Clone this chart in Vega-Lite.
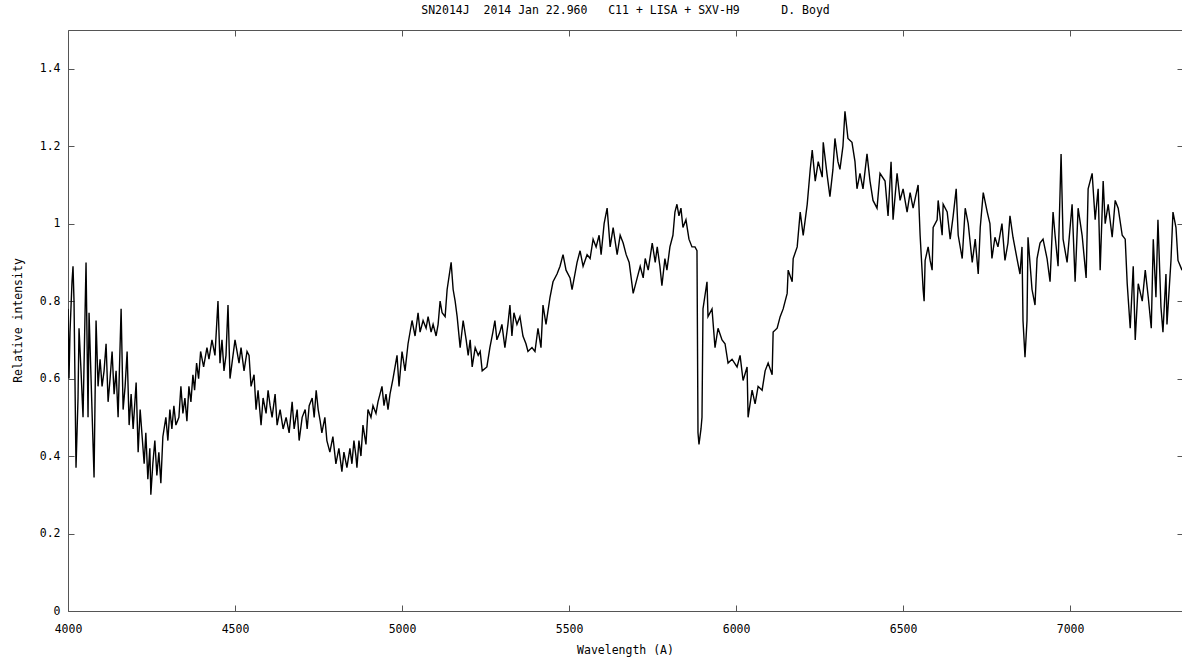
{
  "$schema": "https://vega.github.io/schema/vega-lite/v6.json",
  "width": 1115,
  "height": 581,
  "autosize": {"type": "none"},
  "padding": {"left": 68, "top": 30, "right": 0, "bottom": 51},
  "background": "white",
  "config": {
    "view": {"stroke": "#555", "strokeWidth": 1},
    "axis": {"grid": false, "domain": false, "tickColor": "#555", "tickWidth": 1, "labelFlush": false, "labelFont": "DejaVu Sans Mono", "labelFontSize": 11.5, "labelColor": "#000", "titleFont": "DejaVu Sans Mono", "titleFontSize": 11.5, "titleFontWeight": "normal", "titleColor": "#000"}
  },
  "title": {"text": "SN2014J\u00a0\u00a02014 Jan 22.960\u00a0\u00a0\u00a0C11 + LISA + SXV-H9\u00a0\u00a0\u00a0\u00a0\u00a0\u00a0D. Boyd", "font": "DejaVu Sans Mono", "fontSize": 11.5, "fontWeight": "normal", "color": "#000", "anchor": "middle", "frame": "group", "offset": 13},
  "data": {"values": [
{"w":4000,"v":0.78},{"w":4003,"v":0.60},{"w":4006,"v":0.72},{"w":4012,"v":0.85},{"w":4015,"v":0.89},{"w":4018,"v":0.80},{"w":4024,"v":0.37},{"w":4030,"v":0.55},{"w":4033,"v":0.73},{"w":4039,"v":0.62},{"w":4045,"v":0.50},{"w":4054,"v":0.90},{"w":4060,"v":0.50},{"w":4063,"v":0.77},{"w":4069,"v":0.60},{"w":4078,"v":0.345},{"w":4084,"v":0.75},{"w":4090,"v":0.58},{"w":4096,"v":0.65},{"w":4102,"v":0.58},{"w":4108,"v":0.62},{"w":4114,"v":0.69},{"w":4120,"v":0.54},{"w":4126,"v":0.60},{"w":4132,"v":0.67},{"w":4138,"v":0.56},{"w":4144,"v":0.62},{"w":4150,"v":0.50},{"w":4159,"v":0.78},{"w":4165,"v":0.52},{"w":4171,"v":0.58},{"w":4177,"v":0.67},{"w":4183,"v":0.48},{"w":4189,"v":0.56},{"w":4195,"v":0.47},{"w":4204,"v":0.59},{"w":4210,"v":0.41},{"w":4216,"v":0.52},{"w":4222,"v":0.45},{"w":4228,"v":0.38},{"w":4233,"v":0.46},{"w":4239,"v":0.34},{"w":4245,"v":0.42},{"w":4248,"v":0.30},{"w":4254,"v":0.38},{"w":4260,"v":0.44},{"w":4266,"v":0.35},{"w":4272,"v":0.41},{"w":4278,"v":0.33},{"w":4284,"v":0.45},{"w":4293,"v":0.50},{"w":4299,"v":0.44},{"w":4305,"v":0.52},{"w":4311,"v":0.47},{"w":4317,"v":0.53},{"w":4323,"v":0.48},{"w":4332,"v":0.50},{"w":4338,"v":0.58},{"w":4344,"v":0.51},{"w":4350,"v":0.55},{"w":4356,"v":0.49},{"w":4362,"v":0.58},{"w":4368,"v":0.54},{"w":4374,"v":0.61},{"w":4379,"v":0.57},{"w":4385,"v":0.64},{"w":4391,"v":0.60},{"w":4397,"v":0.67},{"w":4406,"v":0.63},{"w":4416,"v":0.68},{"w":4422,"v":0.65},{"w":4431,"v":0.70},{"w":4440,"v":0.66},{"w":4449,"v":0.80},{"w":4455,"v":0.64},{"w":4461,"v":0.70},{"w":4467,"v":0.62},{"w":4473,"v":0.66},{"w":4479,"v":0.79},{"w":4485,"v":0.60},{"w":4491,"v":0.64},{"w":4500,"v":0.70},{"w":4506,"v":0.67},{"w":4512,"v":0.64},{"w":4518,"v":0.68},{"w":4527,"v":0.62},{"w":4536,"v":0.67},{"w":4542,"v":0.66},{"w":4548,"v":0.58},{"w":4557,"v":0.61},{"w":4563,"v":0.52},{"w":4569,"v":0.57},{"w":4578,"v":0.48},{"w":4584,"v":0.55},{"w":4593,"v":0.51},{"w":4599,"v":0.57},{"w":4605,"v":0.53},{"w":4611,"v":0.50},{"w":4620,"v":0.56},{"w":4626,"v":0.48},{"w":4635,"v":0.52},{"w":4644,"v":0.47},{"w":4653,"v":0.50},{"w":4662,"v":0.46},{"w":4671,"v":0.54},{"w":4677,"v":0.47},{"w":4686,"v":0.52},{"w":4692,"v":0.44},{"w":4701,"v":0.50},{"w":4710,"v":0.52},{"w":4716,"v":0.47},{"w":4722,"v":0.53},{"w":4731,"v":0.55},{"w":4737,"v":0.50},{"w":4743,"v":0.57},{"w":4749,"v":0.52},{"w":4755,"v":0.49},{"w":4760,"v":0.46},{"w":4769,"v":0.50},{"w":4775,"v":0.44},{"w":4784,"v":0.41},{"w":4793,"v":0.45},{"w":4802,"v":0.38},{"w":4811,"v":0.42},{"w":4820,"v":0.36},{"w":4826,"v":0.41},{"w":4835,"v":0.37},{"w":4844,"v":0.42},{"w":4850,"v":0.38},{"w":4856,"v":0.44},{"w":4862,"v":0.40},
{"w":4865,"v":0.37},{"w":4871,"v":0.44},{"w":4877,"v":0.40},{"w":4883,"v":0.48},{"w":4892,"v":0.43},{"w":4898,"v":0.52},{"w":4907,"v":0.50},{"w":4913,"v":0.53},{"w":4922,"v":0.51},{"w":4928,"v":0.54},{"w":4940,"v":0.58},{"w":4946,"v":0.53},{"w":4952,"v":0.56},{"w":4958,"v":0.52},{"w":4964,"v":0.56},{"w":4973,"v":0.60},{"w":4985,"v":0.66},{"w":4991,"v":0.58},{"w":5000,"v":0.67},{"w":5009,"v":0.62},{"w":5018,"v":0.69},{"w":5030,"v":0.75},{"w":5039,"v":0.71},{"w":5048,"v":0.77},{"w":5054,"v":0.72},{"w":5063,"v":0.75},{"w":5072,"v":0.73},{"w":5078,"v":0.76},{"w":5087,"v":0.72},{"w":5093,"v":0.74},{"w":5102,"v":0.71},{"w":5108,"v":0.74},{"w":5114,"v":0.80},{"w":5120,"v":0.77},{"w":5129,"v":0.76},{"w":5135,"v":0.83},{"w":5147,"v":0.90},{"w":5153,"v":0.83},{"w":5159,"v":0.80},{"w":5165,"v":0.76},{"w":5174,"v":0.68},{"w":5183,"v":0.75},{"w":5192,"v":0.70},{"w":5198,"v":0.66},{"w":5204,"v":0.70},{"w":5210,"v":0.63},{"w":5219,"v":0.68},{"w":5228,"v":0.66},{"w":5234,"v":0.67},{"w":5240,"v":0.62},{"w":5254,"v":0.63},{"w":5263,"v":0.68},{"w":5272,"v":0.72},{"w":5278,"v":0.75},{"w":5284,"v":0.70},{"w":5293,"v":0.72},{"w":5299,"v":0.74},{"w":5308,"v":0.68},{"w":5317,"v":0.74},{"w":5323,"v":0.79},{"w":5329,"v":0.71},{"w":5335,"v":0.77},{"w":5344,"v":0.74},{"w":5353,"v":0.76},{"w":5362,"v":0.71},{"w":5371,"v":0.69},{"w":5377,"v":0.67},{"w":5389,"v":0.68},{"w":5398,"v":0.67},{"w":5407,"v":0.73},{"w":5416,"v":0.68},{"w":5422,"v":0.79},{"w":5431,"v":0.74},{"w":5443,"v":0.81},{"w":5452,"v":0.85},{"w":5464,"v":0.87},{"w":5473,"v":0.89},{"w":5482,"v":0.92},{"w":5491,"v":0.88},{"w":5503,"v":0.86},{"w":5509,"v":0.83},{"w":5524,"v":0.90},{"w":5533,"v":0.93},{"w":5542,"v":0.89},{"w":5554,"v":0.92},{"w":5563,"v":0.91},{"w":5572,"v":0.96},{"w":5581,"v":0.94},{"w":5590,"v":0.97},{"w":5596,"v":0.92},{"w":5605,"v":1.00},{"w":5614,"v":1.04},{"w":5623,"v":0.94},{"w":5632,"v":0.99},{"w":5644,"v":0.92},{"w":5653,"v":0.97},{"w":5662,"v":0.95},{"w":5671,"v":0.92},{"w":5680,"v":0.90},{"w":5692,"v":0.82},{"w":5704,"v":0.86},
{"w":5713,"v":0.89},{"w":5722,"v":0.86},{"w":5728,"v":0.91},{"w":5737,"v":0.88},{"w":5749,"v":0.95},{"w":5758,"v":0.90},{"w":5764,"v":0.94},{"w":5772,"v":0.89},{"w":5778,"v":0.84},{"w":5787,"v":0.91},{"w":5793,"v":0.88},{"w":5802,"v":0.94},{"w":5811,"v":0.97},{"w":5817,"v":1.03},{"w":5823,"v":1.05},{"w":5829,"v":1.02},{"w":5835,"v":1.04},{"w":5841,"v":0.99},{"w":5850,"v":1.01},{"w":5859,"v":0.96},{"w":5868,"v":0.94},{"w":5877,"v":0.94},{"w":5883,"v":0.93},{"w":5886,"v":0.46},{"w":5889,"v":0.43},{"w":5895,"v":0.47},{"w":5898,"v":0.50},{"w":5901,"v":0.78},{"w":5913,"v":0.85},{"w":5916,"v":0.76},{"w":5928,"v":0.78},{"w":5937,"v":0.68},{"w":5946,"v":0.73},{"w":5958,"v":0.70},{"w":5967,"v":0.69},{"w":5976,"v":0.64},{"w":5988,"v":0.65},{"w":6003,"v":0.63},{"w":6012,"v":0.66},{"w":6021,"v":0.595},{"w":6033,"v":0.63},{"w":6036,"v":0.50},{"w":6048,"v":0.57},{"w":6057,"v":0.535},{"w":6066,"v":0.58},{"w":6078,"v":0.57},{"w":6087,"v":0.62},{"w":6096,"v":0.64},{"w":6108,"v":0.61},{"w":6111,"v":0.72},{"w":6123,"v":0.73},{"w":6132,"v":0.76},{"w":6141,"v":0.78},{"w":6153,"v":0.82},{"w":6156,"v":0.88},{"w":6168,"v":0.85},{"w":6171,"v":0.91},{"w":6183,"v":0.94},{"w":6192,"v":1.03},{"w":6201,"v":0.97},{"w":6213,"v":1.05},{"w":6222,"v":1.14},{"w":6228,"v":1.19},{"w":6237,"v":1.11},{"w":6246,"v":1.16},{"w":6258,"v":1.12},{"w":6261,"v":1.21},{"w":6272,"v":1.13},{"w":6281,"v":1.07},{"w":6290,"v":1.14},{"w":6296,"v":1.22},{"w":6305,"v":1.16},{"w":6311,"v":1.14},{"w":6320,"v":1.20},{"w":6326,"v":1.29},{"w":6335,"v":1.22},{"w":6347,"v":1.21},{"w":6356,"v":1.16},{"w":6362,"v":1.09},{"w":6371,"v":1.13},{"w":6380,"v":1.09},{"w":6392,"v":1.18},{"w":6401,"v":1.11},{"w":6410,"v":1.06},{"w":6422,"v":1.04},{"w":6431,"v":1.13},{"w":6446,"v":1.11},{"w":6455,"v":1.02},{"w":6464,"v":1.16},{"w":6470,"v":1.01},{"w":6482,"v":1.13},{"w":6491,"v":1.06},{"w":6500,"v":1.09},{"w":6512,"v":1.03},{"w":6521,"v":1.08},{"w":6530,"v":1.04},{"w":6545,"v":1.10},{"w":6551,"v":0.97},{"w":6560,"v":0.83},{"w":6563,"v":0.80},{"w":6566,"v":0.905},{"w":6575,"v":0.94},{"w":6581,"v":0.905},{"w":6587,"v":0.88},{"w":6590,"v":0.99},{"w":6602,"v":1.01},{"w":6605,"v":1.06},{"w":6617,"v":0.97},{"w":6620,"v":1.05},{"w":6632,"v":1.03},{"w":6641,"v":0.96},{"w":6650,"v":1.02},{"w":6659,"v":1.09},{"w":6665,"v":0.97},{"w":6677,"v":0.91},{"w":6686,"v":1.04},{"w":6695,"v":1.00},{"w":6707,"v":0.90},{"w":6716,"v":0.96},{"w":6725,"v":0.87},{"w":6731,"v":0.99},{"w":6740,"v":1.08},{"w":6752,"v":1.03},{"w":6760,"v":1.00},{"w":6766,"v":0.91},{"w":6775,"v":0.965},{"w":6784,"v":0.94},{"w":6796,"v":1.00},{"w":6805,"v":0.905},{"w":6814,"v":0.95},{"w":6820,"v":1.02},{"w":6829,"v":0.965},{"w":6841,"v":0.91},{"w":6850,"v":0.87},{"w":6856,"v":0.94},{"w":6859,"v":0.75},{"w":6865,"v":0.655},{"w":6871,"v":0.75},{"w":6874,"v":0.965},{"w":6886,"v":0.83},{"w":6895,"v":0.79},{"w":6901,"v":0.91},{"w":6910,"v":0.95},{"w":6919,"v":0.96},{"w":6931,"v":0.91},{"w":6940,"v":0.85},{"w":6949,"v":1.03},{"w":6955,"v":0.97},{"w":6964,"v":0.89},{"w":6973,"v":1.18},{"w":6979,"v":0.96},{"w":6991,"v":0.90},{"w":7006,"v":1.05},{"w":7015,"v":0.85},{"w":7024,"v":1.04},{"w":7036,"v":0.97},{"w":7048,"v":0.86},{"w":7054,"v":1.09},{"w":7066,"v":1.13},{"w":7075,"v":1.01},{"w":7084,"v":1.09},{"w":7090,"v":0.88},{"w":7099,"v":1.11},{"w":7105,"v":1.00},{"w":7114,"v":1.05},{"w":7126,"v":0.965},{"w":7135,"v":1.06},{"w":7144,"v":1.04},{"w":7156,"v":0.97},{"w":7165,"v":0.96},{"w":7171,"v":0.845},{"w":7180,"v":0.73},{"w":7189,"v":0.89},{"w":7195,"v":0.70},{"w":7204,"v":0.845},{"w":7216,"v":0.80},{"w":7225,"v":0.88},{"w":7234,"v":0.81},{"w":7243,"v":0.73},{"w":7249,"v":0.96},{"w":7257,"v":0.81},{"w":7263,"v":1.01},{"w":7272,"v":0.785},{"w":7278,"v":0.72},{"w":7287,"v":0.87},{"w":7290,"v":0.74},{"w":7302,"v":0.905},{"w":7308,"v":1.03},{"w":7317,"v":0.99},{"w":7323,"v":0.905},{"w":7335,"v":0.88}
  ]},
  "resolve": {"axis": {"x": "independent", "y": "independent"}},
  "layer": [
    {
      "mark": {"type": "line", "color": "#000", "strokeWidth": 1.4, "clip": true},
      "encoding": {
        "x": {"field": "w", "type": "quantitative", "scale": {"domain": [4000, 7338], "nice": false, "zero": false},
          "axis": {"orient": "bottom", "values": [4000, 4500, 5000, 5500, 6000, 6500, 7000], "format": "d", "tickSize": -6, "labelPadding": 18, "title": "Wavelength (A)", "titleX": 557, "titleY": 39, "titleBaseline": "middle"}},
        "y": {"field": "v", "type": "quantitative", "scale": {"domain": [0, 1.5], "nice": false, "zero": false},
          "axis": {"orient": "left", "values": [0, 0.2, 0.4, 0.6, 0.8, 1, 1.2, 1.4], "format": "~g", "tickSize": -6, "labelPadding": 14, "title": "Relative intensity", "titleX": -50, "titleY": 290, "titleAngle": -90, "titleBaseline": "middle", "titleAlign": "center"}}
      }
    },
    {
      "mark": {"type": "line", "opacity": 0},
      "encoding": {
        "x": {"field": "w", "type": "quantitative", "axis": {"orient": "top", "values": [4000, 4500, 5000, 5500, 6000, 6500, 7000], "labels": false, "tickSize": -6, "title": null}},
        "y": {"field": "v", "type": "quantitative", "axis": {"orient": "right", "values": [0, 0.2, 0.4, 0.6, 0.8, 1, 1.2, 1.4], "labels": false, "tickSize": -6, "title": null}}
      }
    }
  ]
}
